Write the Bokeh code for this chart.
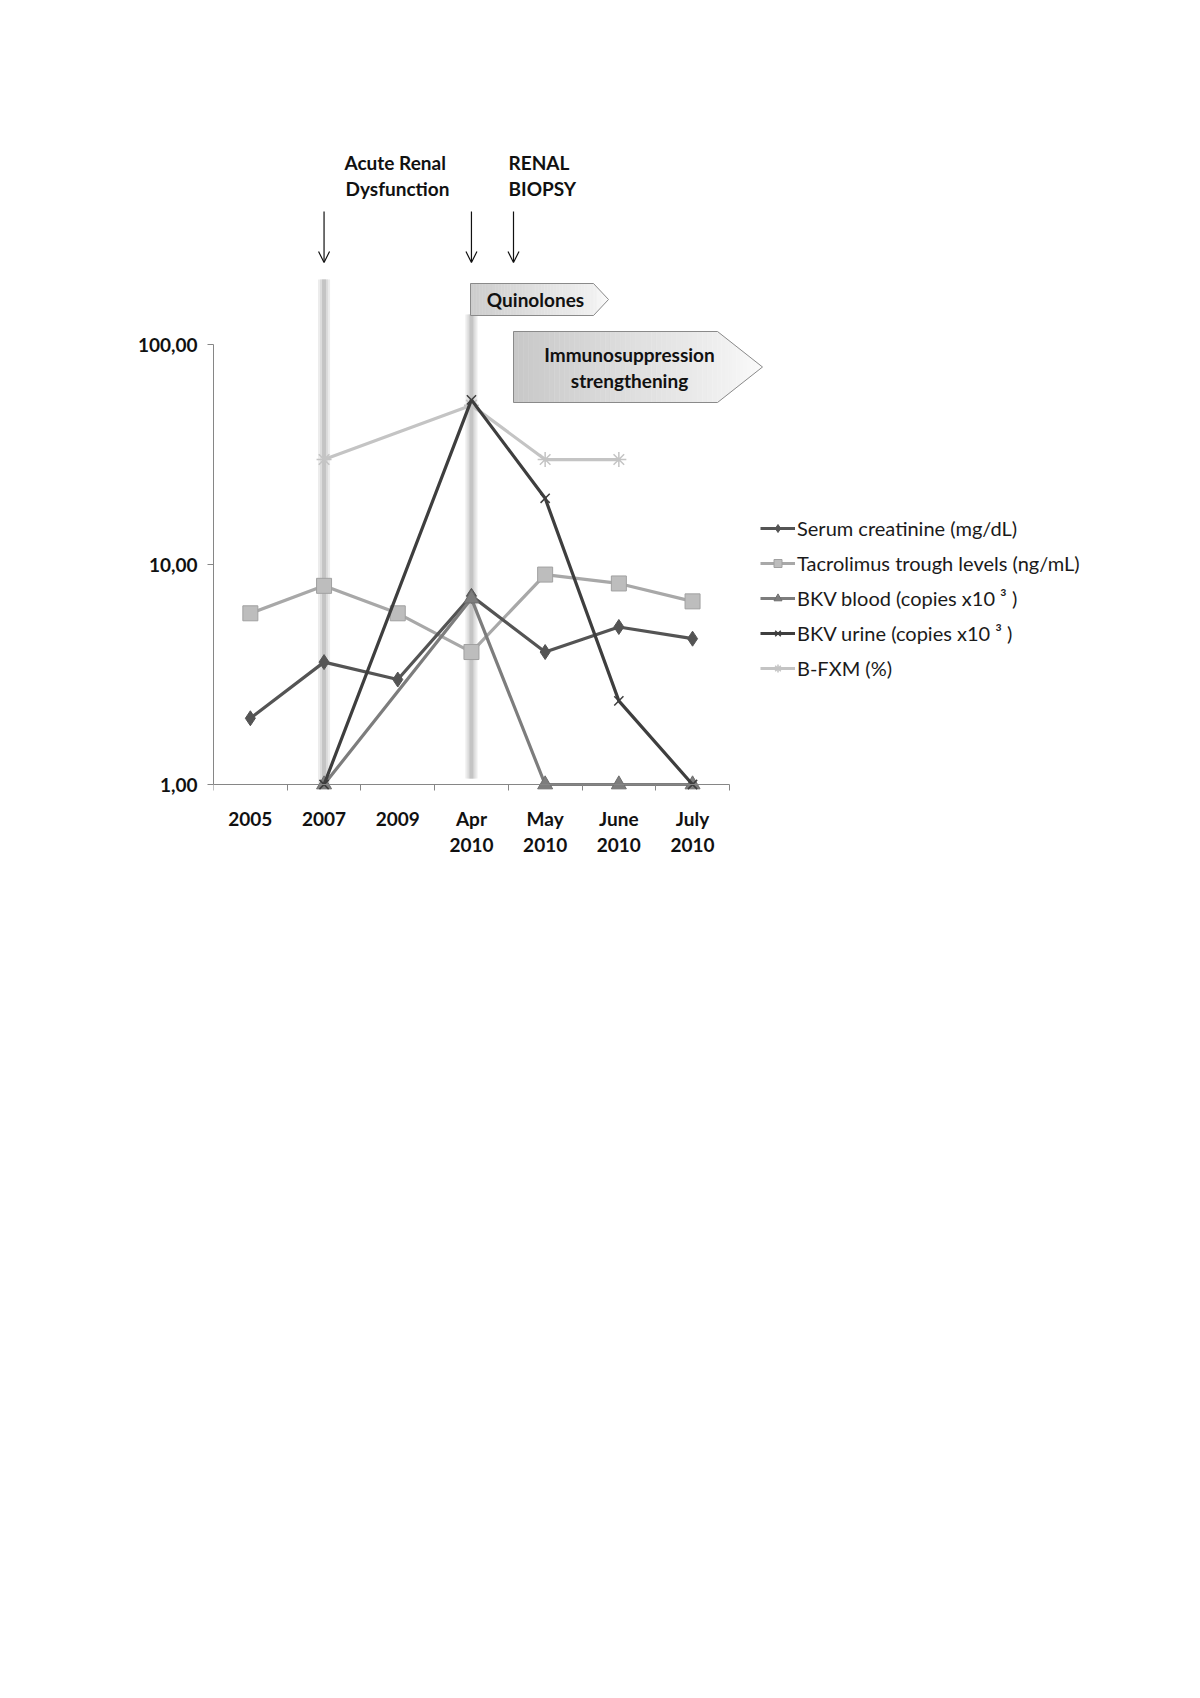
import math
from bokeh.plotting import figure
from bokeh.models import (Range1d, FixedTicker, Legend, LegendItem, Arrow, OpenHead,
                          ColumnDataSource, Label)
from bokeh.embed import file_html
from bokeh.resources import INLINE

# ---------------- data ----------------
categories = ["2005", "2007", "2009", "Apr\n2010", "May\n2010", "June\n2010", "July\n2010"]
serum_creatinine = [2.0, 3.6, 3.0, 7.2, 4.0, 5.2, 4.6]
tacrolimus = [6.0, 8.0, 6.0, 4.0, 9.0, 8.2, 6.8]
bkv_blood = [None, 1.0, None, 7.0, 1.0, 1.0, 1.0]
bkv_urine = [None, 1.0, None, 56.0, 20.0, 2.4, 1.0]
b_fxm = [None, 30.0, None, 53.0, 30.0, 30.0, None]
series_names = ["Serum creatinine (mg/dL)", "Tacrolimus trough levels (ng/mL)",
                "BKV blood (copies x10 \u00b3 )", "BKV urine (copies x10 \u00b3 )", "B-FXM (%)"]
y_ticks = [1, 10, 100]
y_tick_labels = ["1,00", "10,00", "100,00"]

# ---------------- geometry (pixels) ----------------
W = 1184
LEFT = 213
PX_CAT = 73.7
DEC = 220.0
Y1 = 784.0            # figure y of value 1
FRAME_BOTTOM = 870.0
H = int(FRAME_BOTTOM) + 100
FRAME_W = W - LEFT

def dx(px):
    return (px - 213.0) / PX_CAT - 0.5

def dy(py):
    return 10 ** ((Y1 - py) / DEC)

def ly(py):
    return (Y1 - py) / DEC

p = figure(width=W, height=H, output_backend="svg", toolbar_location=None,
           y_axis_type="log",
           x_range=Range1d(-0.5, -0.5 + FRAME_W / PX_CAT),
           y_range=Range1d(10 ** (-(FRAME_BOTTOM - Y1) / DEC), 10 ** (Y1 / DEC)),
           min_border_left=LEFT, min_border_right=0, min_border_top=0, min_border_bottom=100)
p.outline_line_color = None
p.grid.visible = False
p.background_fill_color = "white"
p.border_fill_color = "white"

FONT = "Lato"

# ---------------- axes ----------------
xa = p.xaxis[0]
xa.ticker = FixedTicker(ticks=list(range(len(categories))),
                        minor_ticks=[i - 0.5 for i in range(len(categories) + 1)])
xa.major_label_overrides = {i: c for i, c in enumerate(categories)}
xa.bounds = (-0.5, len(categories) - 0.5)
xa.fixed_location = 1
xa.axis_line_color = "#868686"
xa.major_tick_line_color = None
xa.minor_tick_line_color = "#868686"
xa.minor_tick_in = 0
xa.minor_tick_out = 6
xa.major_label_text_font = FONT
xa.major_label_text_font_style = "bold"
xa.major_label_text_font_size = "19px"
xa.major_label_text_color = "#111111"
xa.major_label_text_line_height = 1.15
xa.major_label_standoff = 16

ya = p.yaxis[0]
ya.ticker = FixedTicker(ticks=y_ticks, minor_ticks=[])
ya.major_label_overrides = {t: l for t, l in zip(y_ticks, y_tick_labels)}
ya.bounds = (1, 100)
ya.axis_line_color = "#868686"
ya.major_tick_line_color = "#868686"
ya.major_tick_in = 0
ya.major_tick_out = 6
ya.minor_tick_line_color = None
ya.major_label_text_font = FONT
ya.major_label_text_font_style = "bold"
ya.major_label_text_font_size = "19px"
ya.major_label_text_color = "#111111"
ya.major_label_standoff = 10

# ---------------- shaded vertical bars ----------------
for xc, top, bot in [(1, dy(279), dy(784)), (3, dy(314), dy(778))]:
    for lw, col in [(12, "#ececec"), (8, "#dcdcdc"), (4, "#c4c4c4")]:
        p.segment(x0=[xc], y0=[bot], x1=[xc], y1=[top], line_width=lw, line_color=col)

# ---------------- gradient arrow boxes ----------------
def grad_box(x0, x1, xt, ptop, pbot, c_left, c_right, n1=40, n2=12):
    lt, lb = ly(ptop), ly(pbot)
    mid = (lt + lb) / 2
    half = (lt - lb) / 2
    def lerp(t):
        return "#%02x%02x%02x" % tuple(int(round(a + (b - a) * t)) for a, b in zip(c_left, c_right))
    xs_all, ys_all, cols = [], [], []
    total = n1 + n2
    for i in range(n1):
        a = x0 + (x1 - x0) * i / n1
        b = x0 + (x1 - x0) * (i + 1) / n1
        xs_all.append([a, b, b, a])
        ys_all.append([10 ** lb, 10 ** lb, 10 ** lt, 10 ** lt])
        cols.append(lerp(i / (total - 1)))
    for j in range(n2):
        a = x1 + (xt - x1) * j / n2
        b = x1 + (xt - x1) * (j + 1) / n2
        ha = half * (xt - a) / (xt - x1)
        hb = half * (xt - b) / (xt - x1)
        xs_all.append([a, b, b, a])
        ys_all.append([10 ** (mid - ha), 10 ** (mid - hb), 10 ** (mid + hb), 10 ** (mid + ha)])
        cols.append(lerp((n1 + j) / (total - 1)))
    p.patches(xs=xs_all, ys=ys_all, fill_color=cols, line_color=cols, line_width=0.5)
    p.patch(x=[x0, x1, xt, x1, x0], y=[10 ** lt, 10 ** lt, 10 ** mid, 10 ** lb, 10 ** lb],
            fill_color=None, line_color="#8a8a8a", line_width=1)

grad_box(dx(470), dx(593), dx(608), 283, 315, (205, 205, 205), (250, 250, 250))
grad_box(dx(513), dx(717), dx(762), 331, 402, (200, 200, 200), (250, 250, 250))

def lab(text, px, py, align="center", size="19px", bold=True):
    p.add_layout(Label(x=dx(px), y=dy(py), text=text, text_align=align, text_baseline="middle",
                       text_font=FONT, text_font_size=size,
                       text_font_style="bold" if bold else "normal", text_color="#111111"))

lab("Quinolones", 535, 299)
lab("Immunosuppression", 629, 354)
lab("strengthening", 629, 380)
lab("Acute  Renal", 397, 162)
lab("Dysfunction", 397, 188)
lab("RENAL", 508, 162, align="left")
lab("BIOPSY", 508, 188, align="left")

# ---------------- arrows ----------------
for ax in [1, 3, dx(513)]:
    p.add_layout(Arrow(end=OpenHead(size=11, line_width=1.2, line_color="#111111"),
                       x_start=ax, y_start=dy(211), x_end=ax, y_end=dy(262),
                       line_width=1.2, line_color="#111111"))

# ---------------- series ----------------
def src(vals):
    xs = [i for i, v in enumerate(vals) if v is not None]
    ys = [v for v in vals if v is not None]
    return ColumnDataSource(dict(x=xs, y=ys))

styles = [
    (serum_creatinine, "#545454", "diamond", 15, "#545454", "#545454"),
    (tacrolimus, "#a8a8a8", "square", 15, "#bdbdbd", "#a0a0a0"),
    (bkv_blood, "#7d7d7d", "triangle", 15, "#7d7d7d", "#6e6e6e"),
    (bkv_urine, "#3e3e3e", "x", 13, "#3e3e3e", "#3e3e3e"),
    (b_fxm, "#c4c4c4", "asterisk", 15, "#c4c4c4", "#c4c4c4"),
]
order = [4, 1, 0, 2, 3]
renderers = {}
for k in order:
    vals, lc, mk, sz, fc, mlc = styles[k]
    s = src(vals)
    lr = p.line("x", "y", source=s, line_color=lc, line_width=3.2)
    sr = p.scatter("x", "y", source=s, marker=mk, size=sz, fill_color=fc, line_color=mlc,
                   line_width=1.5 if mk in ("x", "asterisk") else 1)
    renderers[k] = [lr, sr]

legend = Legend(items=[LegendItem(label=series_names[k], renderers=renderers[k]) for k in range(5)],
                location=(547, 190))
legend.label_text_font = FONT
legend.label_text_font_size = "20px"
legend.label_text_color = "#1a1a1a"
legend.glyph_width = 35
legend.glyph_height = 20
legend.label_height = 20
legend.spacing = 11
legend.padding = 0
legend.margin = 0
legend.label_standoff = 2
legend.border_line_color = None
legend.background_fill_alpha = 0
p.add_layout(legend)

open("out.html", "w").write(file_html(p, INLINE))
